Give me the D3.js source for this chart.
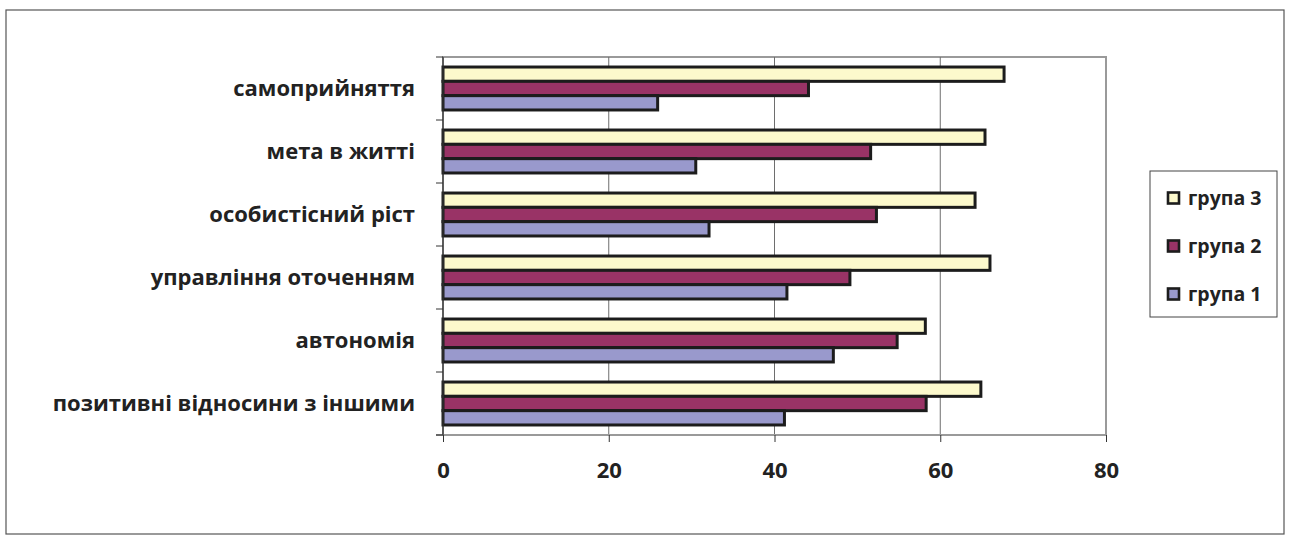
<!DOCTYPE html>
<html><head><meta charset="utf-8">
<script src="https://cdn.jsdelivr.net/npm/d3@7"></script>
<style>body{margin:0;background:#fff}svg{display:block}</style>
</head><body>
<svg id="c" width="1290" height="544"></svg>
<script>
const categories = ["самоприйняття","мета в житті","особистісний ріст","управління оточенням","автономія","позитивні відносини з іншими"];
const seriesNames = ["група 3","група 2","група 1"];
const group3 = [67.7, 65.4, 64.2, 66.0, 58.2, 64.9];
const group2 = [44.1, 51.6, 52.3, 49.1, 54.8, 58.3];
const group1 = [25.9, 30.5, 32.1, 41.5, 47.1, 41.2];
const xTicks = [0, 20, 40, 60, 80];
const colors = ["#FCF9CC", "#993366", "#9999CC"];
const seriesValues = [group3, group2, group1];

const svg = d3.select("#c");
const font = "'Open Sans', sans-serif";
svg.append("rect").attr("x",6).attr("y",10).attr("width",1278).attr("height",524)
  .attr("fill","#fff").attr("stroke","#555").attr("stroke-width",1.2);

const L=443, R=1106, T=57, B=435;
const x = d3.scaleLinear().domain([0,80]).range([L,R]);
const y = d3.scaleBand().domain(categories).range([T,B]).paddingInner(0).paddingOuter(0);
const inner = d3.scaleBand().domain(seriesNames).range([0,y.bandwidth()]).paddingInner(0).paddingOuter(0.7);

svg.append("rect").attr("x",L).attr("y",T).attr("width",R-L).attr("height",B-T)
  .attr("fill","none").attr("stroke","#9a9a9a").attr("stroke-width",2);
svg.append("g").selectAll("line").data(xTicks.slice(1,-1)).join("line")
  .attr("x1",d=>x(d)).attr("x2",d=>x(d)).attr("y1",T).attr("y2",B)
  .attr("stroke","#6e6e6e").attr("stroke-width",1);

const g = svg.append("g");
categories.forEach((c,i)=>{
  seriesNames.forEach((s,j)=>{
    g.append("rect")
      .attr("x",x(0)).attr("y",y(c)+inner(s))
      .attr("width",x(seriesValues[j][i])-x(0)).attr("height",inner.bandwidth())
      .attr("fill",colors[j]).attr("stroke","#1c1c1c").attr("stroke-width",3);
  });
});

const xa = svg.append("g").attr("transform",`translate(0,${B})`)
  .call(d3.axisBottom(x).tickValues(xTicks).tickSize(7).tickPadding(20).tickSizeOuter(0));
xa.select(".domain").attr("stroke","#9a9a9a").attr("stroke-width",2).attr("d",`M${L-7},0H${R}`);
xa.selectAll(".tick line").attr("stroke","#333");
xa.selectAll("text").attr("font-family",font).attr("font-weight","bold").attr("font-size",22).attr("fill","#222");

const yTickVals = y.domain().map(d=>y(d)).concat([B]);
svg.append("g").selectAll("line").data(yTickVals).join("line")
  .attr("x1",L-7).attr("x2",L).attr("y1",d=>d).attr("y2",d=>d).attr("stroke","#333");
svg.append("line").attr("x1",L).attr("x2",L).attr("y1",T).attr("y2",B).attr("stroke","#333").attr("stroke-width",1.2);
svg.append("g").selectAll("text").data(categories).join("text")
  .attr("x",415).attr("y",d=>y(d)+y.bandwidth()/2).attr("dy","0.35em")
  .attr("text-anchor","end").attr("font-family",font).attr("font-weight","bold")
  .attr("font-size",22).attr("fill","#222").text(d=>d);

const lg = svg.append("g");
lg.append("rect").attr("x",1150).attr("y",171).attr("width",127).attr("height",146)
  .attr("fill","#fff").attr("stroke","#444").attr("stroke-width",1);
const ly = [198, 246, 294];
seriesNames.forEach((s,j)=>{
  lg.append("rect").attr("x",1168).attr("y",ly[j]-5.5).attr("width",11).attr("height",11)
    .attr("fill",colors[j]).attr("stroke","#1c1c1c").attr("stroke-width",2.6);
  lg.append("text").attr("x",1188).attr("y",ly[j]).attr("dy","0.35em")
    .attr("font-family",font).attr("font-weight","bold").attr("font-size",19.5).attr("fill","#222").text(s);
});
</script>
</body></html>
